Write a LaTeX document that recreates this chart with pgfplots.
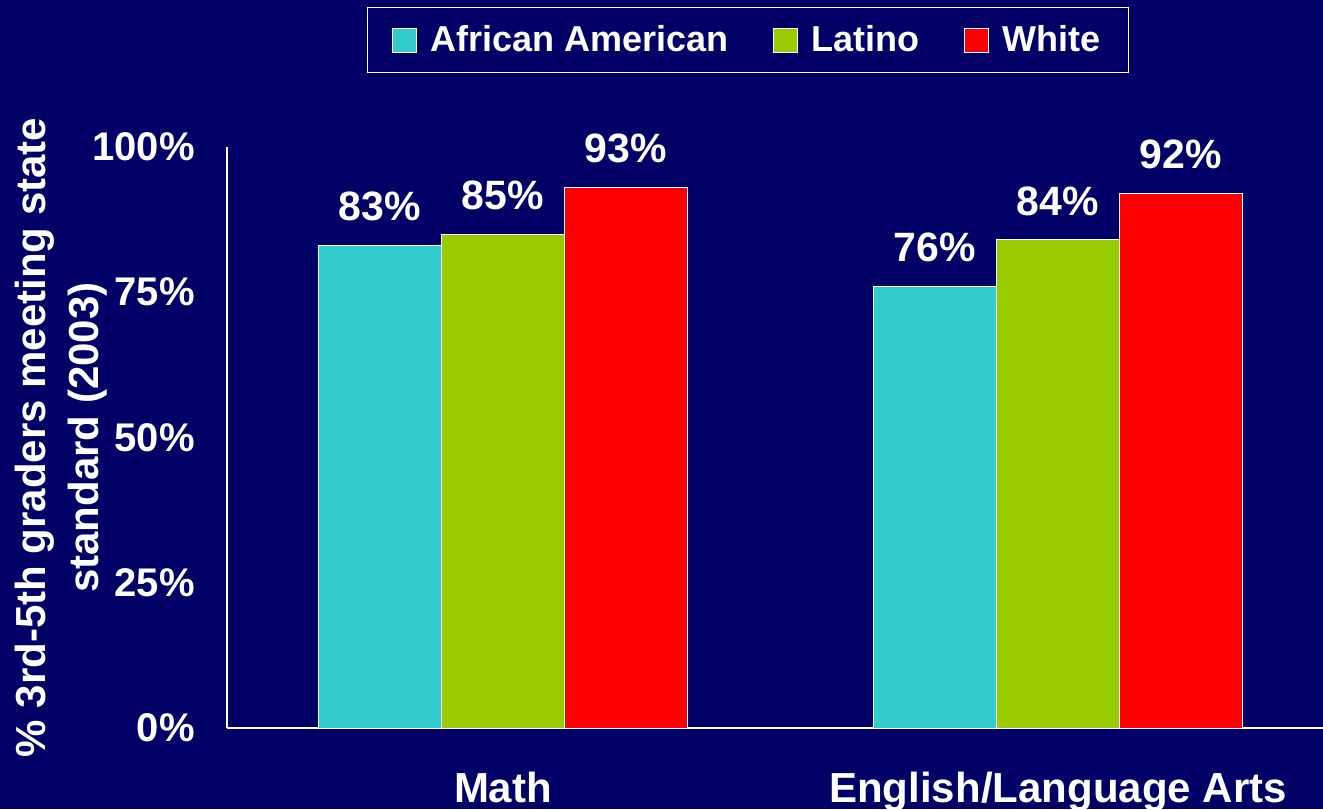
\documentclass[border=0pt]{standalone}
\usepackage{fontspec}
\setmainfont{Liberation Sans}
\usepackage{pgfplots}
\pgfplotsset{compat=1.18}
\definecolor{bg}{HTML}{000066}
\definecolor{aa}{HTML}{33CCCC}
\definecolor{lat}{HTML}{99CC00}
\definecolor{wh}{HTML}{FF0000}
\begin{document}
\begin{tikzpicture}
\useasboundingbox (-113.5pt,-40.5pt) rectangle (548pt,364pt);
\fill[bg] (-113.5pt,-40.5pt) rectangle (548pt,364pt);
\begin{axis}[
  at={(0pt,0pt)}, anchor=south west,
  scale only axis, width=548pt, height=290.5pt,
  ybar=0pt, bar width=61.5pt,
  xmin=-0.4973, xmax=1.4775, ymin=0, ymax=100,
  axis x line*=bottom, axis y line*=left,
  axis line style={white, line width=0.75pt},
  xtick={0,1}, xticklabels={Math, English/Language Arts},
  ytick={0,25,50,75,100},
  /pgf/number format/assume math mode=true,
  yticklabel={\pgfmathprintnumber{\tick}\%},
  major tick length=0pt,
  clip=false,
  xticklabel style={font=\fontsize{21}{25}\selectfont\bfseries, text=white, anchor=north, inner sep=0pt, yshift=-22pt},
  yticklabel style={font=\fontsize{20}{24}\selectfont\bfseries, text=white, anchor=east, inner sep=0pt, xshift=-16pt},
  ylabel={\% 3rd-5th graders meeting state\\standard (2003)},
  ylabel style={at={(axis description cs:-0.1515,0.5)}, anchor=center, align=center, font=\fontsize{21}{26.5}\selectfont\bfseries, text=white},
  nodes near coords={\pgfmathprintnumber{\pgfplotspointmeta}\%},
  every node near coord/.append style={font=\fontsize{20.5}{24}\selectfont\bfseries, text=white, anchor=south, inner sep=0pt, yshift=12pt},
  legend image code/.code={\draw[#1, draw=white, line width=0.5pt] (0pt,-6pt) rectangle (12pt,6pt);},
  legend columns=3,
  legend style={at={(0.4754,1.184)}, anchor=center, draw=white, line width=0.75pt, fill=bg, text=white,
    font=\fontsize{18}{22}\selectfont\bfseries, inner xsep=12pt, inner ysep=7pt,
    /tikz/every odd column/.append style={column sep=5pt},
    /tikz/every even column/.append style={column sep=20pt}},
]
\addplot[fill=aa, draw=white, line width=0.5pt] coordinates {(0,83) (1,76)};
\addplot[fill=lat, draw=white, line width=0.5pt] coordinates {(0,85) (1,84)};
\addplot[fill=wh, draw=white, line width=0.5pt] coordinates {(0,93) (1,92)};
\legend{African American, Latino, White}
\end{axis}
\end{tikzpicture}
\end{document}
